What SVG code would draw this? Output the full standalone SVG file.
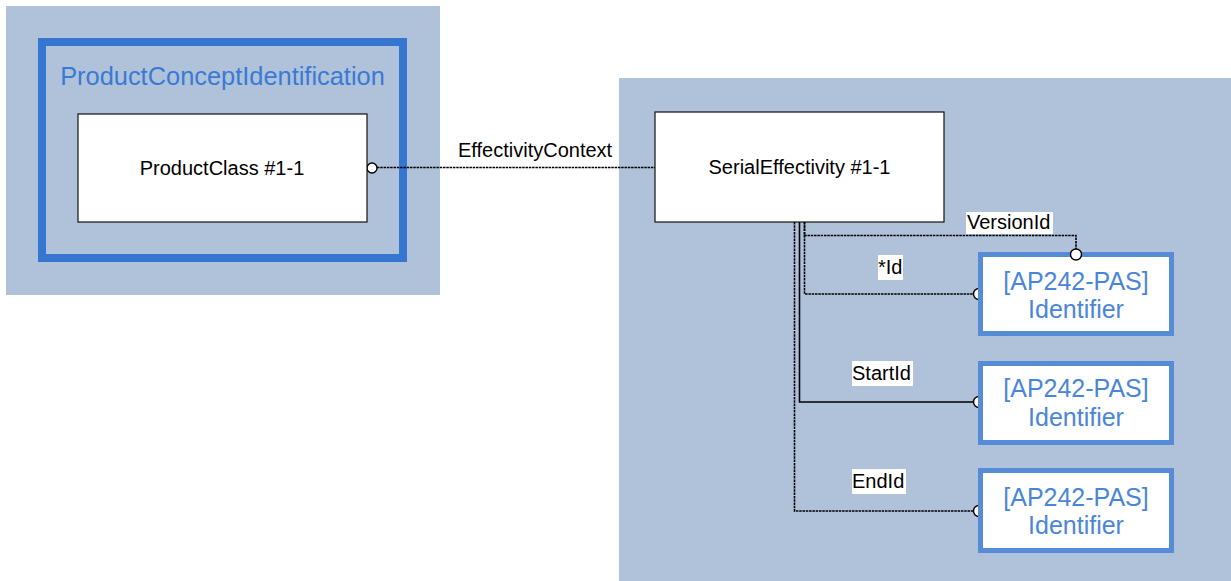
<svg xmlns="http://www.w3.org/2000/svg" width="1231" height="581" viewBox="0 0 1231 581">
<style>
text{font-family:"Liberation Sans",Arial,sans-serif}
.bg{fill:#AFC2DA}
.ent{fill:#fff;stroke:#111;stroke-width:1.2}
.et{font-size:20px;fill:#000;text-anchor:middle}
.idb{fill:#fff;stroke:#558BD7;stroke-width:5}
.idt{font-size:25px;fill:#4A86D6;text-anchor:middle}
.lbl{font-size:20px;fill:#000}
.lb{fill:#fff}
.c{fill:none;stroke:#000;stroke-width:1.6}
.d{stroke-dasharray:2.5 0.8}
.o{fill:#fff;stroke:#000;stroke-width:1.4}
</style>
<rect class="bg" x="6" y="6" width="434" height="289"/>
<rect class="bg" x="619" y="78" width="612" height="503"/>
<g id="ProductConceptIdentification">
<rect x="42" y="42" width="361" height="216" fill="none" stroke="#3476D0" stroke-width="8"/>
<text x="222.5" y="85" font-size="25.4" fill="#3A7AD4" text-anchor="middle">ProductConceptIdentification</text>
</g>
<g id="connectors">
<line class="c d" x1="377" y1="167.5" x2="655" y2="167.5"/>
<circle class="o" cx="372" cy="168" r="5"/>
<rect class="lb" x="456" y="139" width="162" height="24"/>
<text class="lbl" x="458" y="157">EffectivityContext</text>
<polyline class="c d" points="804.5,222 804.5,235.5 1076,235.5 1076,249"/>
<polyline class="c d" points="804.5,222 804.5,294 979,294"/>
<circle class="o" cx="979" cy="294" r="5.5"/>
<polyline class="c" points="799.5,222 799.5,402 979,402" stroke="#222"/>
<circle class="o" cx="979" cy="402" r="5.5"/>
<polyline class="c d" points="794.5,222 794.5,511 979,511"/>
<circle class="o" cx="979" cy="511" r="5.5"/>
<rect class="lb" x="966" y="212" width="87" height="22"/>
<text class="lbl" x="967" y="229">VersionId</text>
<rect class="lb" x="878" y="255" width="25" height="25"/>
<text class="lbl" x="878" y="274">*Id</text>
<rect class="lb" x="852" y="361" width="61" height="25"/>
<text class="lbl" x="852" y="380">StartId</text>
<rect class="lb" x="852" y="469" width="54" height="25"/>
<text class="lbl" x="852" y="488">EndId</text>
</g>
<g id="ProductClass">
<rect class="ent" x="78" y="114" width="289" height="108"/>
<text class="et" x="222" y="175">ProductClass #1-1</text>
</g>
<g id="SerialEffectivity">
<rect class="ent" x="655" y="112" width="289" height="110"/>
<text class="et" x="799.5" y="174">SerialEffectivity #1-1</text>
</g>
<g id="Identifier1">
<rect class="idb" x="980.5" y="254.5" width="191" height="79"/>
<text class="idt" x="1076" y="290">[AP242-PAS]</text>
<text class="idt" x="1076" y="318">Identifier</text>
</g>
<g id="Identifier2">
<rect class="idb" x="980.5" y="363.5" width="191" height="79"/>
<text class="idt" x="1076" y="397">[AP242-PAS]</text>
<text class="idt" x="1076" y="426">Identifier</text>
</g>
<g id="Identifier3">
<rect class="idb" x="980.5" y="470.5" width="191" height="80"/>
<text class="idt" x="1076" y="506">[AP242-PAS]</text>
<text class="idt" x="1076" y="534">Identifier</text>
</g>
<circle class="o" cx="1076" cy="254.5" r="5.5"/>
</svg>
